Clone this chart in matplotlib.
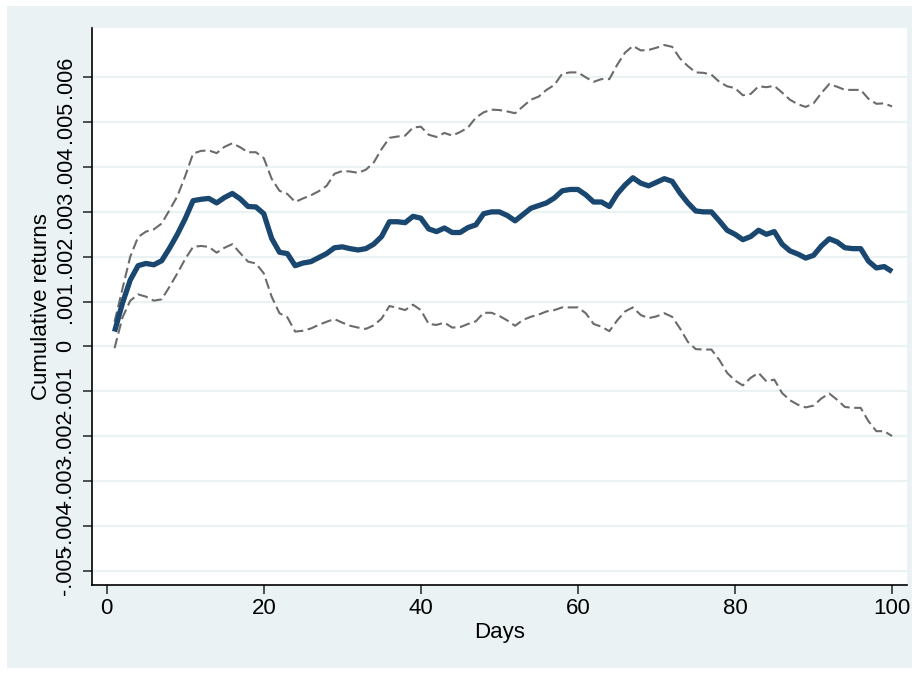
import numpy as np
import matplotlib
matplotlib.use("Agg")
from matplotlib import pyplot as plt
from matplotlib.patches import Rectangle

plt.rcParams['font.family'] = ['Liberation Sans', 'DejaVu Sans']

days = np.arange(1, 101)

mean_ret = [
    .00033, .00096, .00148, .00180, .00185, .00182, .00191, .00219, .00250, .00285,
    .00325, .00328, .00330, .00320, .00332, .00341, .00329, .00312, .00311, .00296,
    .00241, .00210, .00207, .00180, .00186, .00189, .00198, .00207, .00220, .00222,
    .00218, .00215, .00218, .00228, .00245, .00278, .00278, .00276, .00290, .00286,
    .00262, .00256, .00264, .00254, .00254, .00265, .00271, .00296, .00300, .00300,
    .00292, .00280, .00294, .00308, .00314, .00320, .00331, .00347, .00350, .00350,
    .00338, .00322, .00322, .00312, .00340, .00360, .00376, .00364, .00358, .00366,
    .00374, .00368, .00342, .00320, .00302, .00300, .00300, .00280, .00259, .00250,
    .00238, .00245, .00259, .00250, .00256, .00228, .00213, .00206, .00197, .00203,
    .00224, .00240, .00233, .00220, .00218, .00218, .00190, .00175, .00178, .00167,
]

upper_ci = [
    .00055, .00128, .00200, .00244, .00256, .00261, .00274, .00304, .00335, .00380,
    .00430, .00436, .00437, .00431, .00445, .00453, .00444, .00433, .00433, .00420,
    .00374, .00347, .00340, .00322, .00330, .00337, .00346, .00358, .00385, .00391,
    .00390, .00387, .00394, .00410, .00440, .00465, .00468, .00470, .00488, .00490,
    .00472, .00467, .00476, .00470, .00478, .00488, .00510, .00522, .00528, .00527,
    .00524, .00520, .00535, .00550, .00557, .00572, .00583, .00608, .00611, .00611,
    .00600, .00590, .00596, .00596, .00628, .00655, .00670, .00660, .00661, .00666,
    .00672, .00668, .00642, .00625, .00611, .00610, .00606, .00590, .00580, .00576,
    .00560, .00563, .00580, .00578, .00581, .00566, .00550, .00540, .00534, .00542,
    .00565, .00585, .00579, .00572, .00572, .00572, .00552, .00541, .00542, .00535,
]

lower_ci = [
    -.00004, .00064, .00102, .00116, .00111, .00102, .00105, .00133, .00163, .00195,
    .00222, .00224, .00222, .00209, .00220, .00228, .00208, .00189, .00185, .00163,
    .00111, .00074, .00065, .00033, .00035, .00040, .00048, .00055, .00061, .00053,
    .00046, .00042, .00039, .00047, .00062, .00090, .00086, .00081, .00093, .00081,
    .00050, .00048, .00053, .00042, .00043, .00050, .00056, .00075, .00075, .00068,
    .00058, .00046, .00059, .00066, .00071, .00078, .00081, .00087, .00087, .00087,
    .00074, .00050, .00044, .00034, .00058, .00078, .00087, .00070, .00063, .00067,
    .00074, .00066, .00040, .00010, -.00006, -.00007, -.00007, -.00030, -.00059, -.00076,
    -.00087, -.00070, -.00059, -.00078, -.00074, -.00104, -.00120, -.00130, -.00136, -.00132,
    -.00116, -.00105, -.00119, -.00135, -.00137, -.00137, -.00167, -.00189, -.00189, -.00200,
]

y_ticks = [-.005, -.004, -.003, -.002, -.001, 0, .001, .002, .003, .004, .005, .006]
y_ticklabels = ["-.005", "-.004", "-.003", "-.002", "-.001", "0",
                ".001", ".002", ".003", ".004", ".005", ".006"]
x_ticks = [0, 20, 40, 60, 80, 100]

W, H = 917, 674
fig = plt.figure(figsize=(W / 100, H / 100), dpi=100, facecolor='white')
# stata-like graph region
fig.patches.append(Rectangle((7 / W, 6 / H), (912 - 7) / W, (668 - 6) / H,
                             transform=fig.transFigure, facecolor='#EAF2F3',
                             edgecolor='none', zorder=-10))

ax = fig.add_axes([92 / W, 1 - 585 / H, (907 - 92) / W, (585 - 28) / H])
ax.set_facecolor('white')

ax.plot(days, upper_ci, color='#6b6b6b', lw=1.5, dashes=(5, 2.2))
ax.plot(days, lower_ci, color='#6b6b6b', lw=1.5, dashes=(5, 2.2))
ax.plot(days, mean_ret, color='#1a476f', lw=3.8, solid_capstyle='butt')

ax.set_xlim(-1.87, 101.9)
ax.set_ylim(-.00532, .0071)

ax.set_yticks(y_ticks)
ax.set_yticklabels(y_ticklabels, rotation=90, va='center')
ax.set_xticks(x_ticks)
ax.grid(axis='y', color='#EAF2F3', lw=1.6)
ax.set_axisbelow(True)

for s in ['top', 'right']:
    ax.spines[s].set_visible(False)
for s in ['left', 'bottom']:
    ax.spines[s].set_linewidth(1.2)

ax.tick_params(axis='x', length=6.5, width=1.2, color='#333333', labelsize=16, pad=3)
ax.tick_params(axis='y', length=6.5, width=1.2, color='#333333', labelsize=15.5, pad=5)

ax.set_xlabel("Days", fontsize=16, labelpad=2)
ax.set_ylabel("Cumulative returns", fontsize=16, labelpad=2)

fig.savefig("out.png", dpi=100, facecolor=fig.get_facecolor())
